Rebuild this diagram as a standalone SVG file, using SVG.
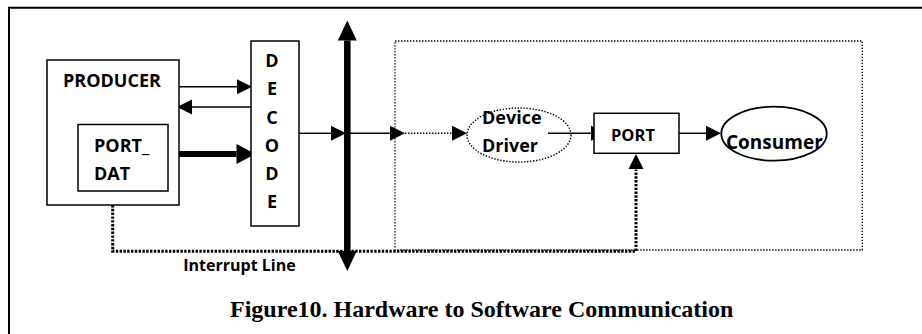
<svg xmlns="http://www.w3.org/2000/svg" width="922" height="334" viewBox="0 0 922 334">
<style>
.box{fill:#fff;stroke:#000;stroke-width:1.5}
.lbl{font-family:"Open Sans","Noto Sans",sans-serif;font-weight:bold;font-size:18px;fill:#000}
.ln{fill:none;stroke:#000;stroke-width:1.5}
.dot{fill:none;stroke:#000;stroke-width:1.4;stroke-dasharray:1.4 1.6}
.int{fill:none;stroke:#000;stroke-width:3;stroke-dasharray:2.4 1.4}
.cap{font-family:"Liberation Serif","Times New Roman",serif;font-weight:bold;font-size:24px;fill:#000}
</style>
<defs>
<marker id="a" markerUnits="userSpaceOnUse" viewBox="0 -9 16 18" refX="0" refY="0" markerWidth="16" markerHeight="18" orient="auto" overflow="visible">
<path d="M0,-7.5 L15,0 L0,7.5 z" fill="#000"/>
</marker>
<marker id="at" markerUnits="userSpaceOnUse" viewBox="0 -11 20 22" refX="0" refY="0" markerWidth="20" markerHeight="22" orient="auto" overflow="visible">
<path d="M0,-10 L19,0 L0,10 z" fill="#000"/>
</marker>
<marker id="ab" markerUnits="userSpaceOnUse" viewBox="0 -10 21 20" refX="0" refY="0" markerWidth="21" markerHeight="20" orient="auto-start-reverse" overflow="visible">
<path d="M0,-9.5 L20,0 L0,9.5 z" fill="#000"/>
</marker>
</defs>
<rect width="922" height="334" fill="#fff"/>
<g id="frame">
<path d="M8,7.7 H922 M9,7.7 V334" fill="none" stroke="#000" stroke-width="2"/>
</g>
<g id="software">
<rect x="395" y="41" width="467.3" height="209" class="dot"/>
</g>
<g id="connectors">
<path class="int" d="M112.7,205 V251.3 H636 V170"/>
<path class="ln" d="M174,86.7 H237" marker-end="url(#a)"/>
<path class="ln" d="M251,107 H192" marker-end="url(#a)"/>
<path fill="none" stroke="#000" stroke-width="6" d="M179,154 H236.5" marker-end="url(#at)"/>
<path class="ln" d="M299,133.3 H331" marker-end="url(#a)"/>
<path class="ln" d="M350,133.3 H390" marker-end="url(#a)"/>
<path class="dot" d="M405,133.3 H452" marker-end="url(#a)"/>
<path class="ln" d="M548,133.3 H591" marker-end="url(#a)"/>
<path class="ln" d="M679,133.3 H706" marker-end="url(#a)"/>
<path fill="none" stroke="#000" stroke-width="1" d="M636,171 V169" marker-end="url(#a)"/>
</g>
<g id="bus">
<path fill="none" stroke="#000" stroke-width="6.5" d="M347.3,40.5 V251" marker-start="url(#ab)" marker-end="url(#ab)"/>
</g>
<g id="producer">
<rect x="47" y="60" width="132" height="145" class="box"/>
<text x="63" y="87.3" class="lbl">PRODUCER</text>
</g>
<g id="port_dat">
<rect x="78" y="124.5" width="90" height="66.5" class="box"/>
<text x="94" y="152" class="lbl">PORT_</text>
<text x="94" y="180" class="lbl">DAT</text>
</g>
<g id="decode">
<rect x="251" y="41" width="48" height="185" class="box"/>
<text x="272" y="67" class="lbl" text-anchor="middle">D</text>
<text x="272" y="95.3" class="lbl" text-anchor="middle">E</text>
<text x="272" y="124" class="lbl" text-anchor="middle">C</text>
<text x="272" y="152" class="lbl" text-anchor="middle">O</text>
<text x="272" y="180" class="lbl" text-anchor="middle">D</text>
<text x="272" y="208" class="lbl" text-anchor="middle">E</text>
</g>
<g id="device_driver">
<ellipse cx="519" cy="135" rx="52" ry="27" class="dot"/>
<text x="482" y="123.5" class="lbl">Device</text>
<text x="482" y="151.5" class="lbl">Driver</text>
</g>
<g id="port">
<rect x="594" y="113.3" width="85" height="40" class="box"/>
<text x="611" y="140.7" class="lbl" style="font-size:16.5px">PORT</text>
</g>
<g id="consumer">
<ellipse cx="774" cy="133.7" rx="52.7" ry="27" fill="#fff" stroke="#000" stroke-width="1.8"/>
<text x="726" y="149" class="lbl" style="font-size:19px">Consumer</text>
</g>
<g id="labels">
<text x="183.3" y="270.7" class="lbl" style="font-size:16px">Interrupt Line</text>
<text x="230" y="316.7" class="cap">Figure10. Hardware to Software Communication</text>
</g>
</svg>
